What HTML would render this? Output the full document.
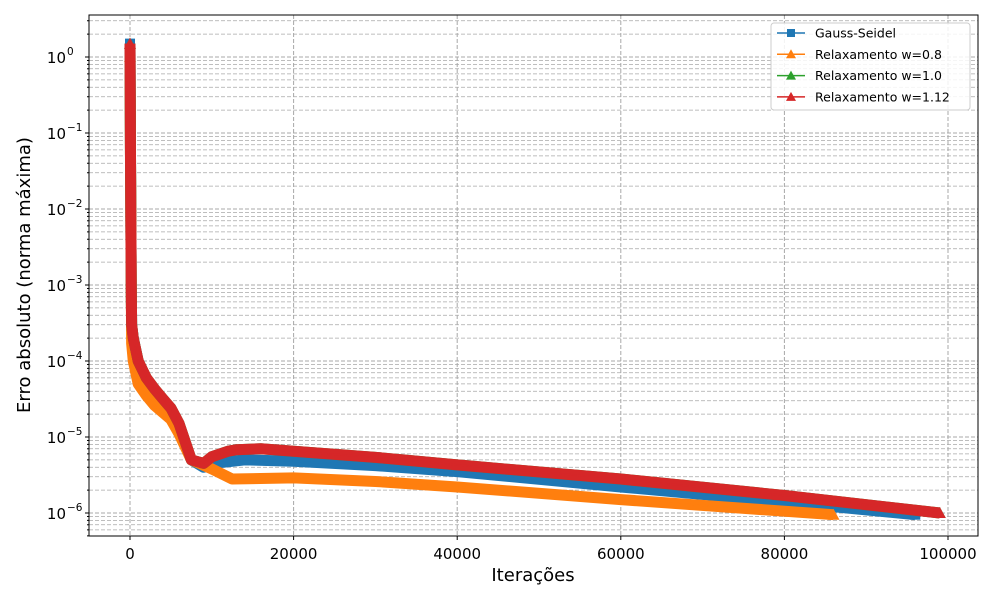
<!DOCTYPE html>
<html><head><meta charset="utf-8"><style>
body{margin:0;background:#fff;font-family:"Liberation Sans","DejaVu Sans",sans-serif}
svg text{font-family:"DejaVu Sans","Liberation Sans",sans-serif}
</style></head><body>
<svg id="chart" width="1000" height="600" xmlns="http://www.w3.org/2000/svg">
<rect width="1000" height="600" fill="#fff"/>
<g id="grid"></g>
<g id="series"></g>
<rect x="89" y="15" width="889" height="521" fill="none" stroke="#000" stroke-width="1"/>
<g id="ticks"></g>
<text x="533" y="581" font-size="18" text-anchor="middle">Iterações</text>
<text transform="translate(30,275) rotate(-90)" font-size="18" text-anchor="middle">Erro absoluto (norma máxima)</text>
<g id="legend"></g>
</svg>
<script>
const xTicks=[0,20000,40000,60000,80000,100000];
const xTickLabels=["0","20000","40000","60000","80000","100000"];
const yExps=[0,-1,-2,-3,-4,-5,-6];
const seriesNames=["Gauss-Seidel","Relaxamento w=0.8","Relaxamento w=1.0","Relaxamento w=1.12"];
const colors=["#1f77b4","#ff7f0e","#2ca02c","#d62728"];
const gsX=[0,30,60,100,150,200,400,1000,2000,3000,4000,5000,6000,7500,9000,10000,11000,14000,20000,30000,40000,60000,80000,96000];
const gsY=[1.5,0.3,0.05,0.01,1e-3,3e-4,2e-4,1e-4,5e-5,3.6e-5,2.7e-5,2e-5,1.3e-5,5e-6,4e-6,4.2e-6,4.6e-6,5e-6,4.8e-6,4.2e-6,3.5e-6,2.2e-6,1.4e-6,9.5e-7];
const w08X=[0,30,60,100,150,200,400,1000,2000,3000,4000,5000,6000,7500,10000,12500,20000,30000,40000,60000,86000];
const w08Y=[1.0,0.2,0.04,0.008,1e-3,1.7e-4,1e-4,5e-5,3.5e-5,2.6e-5,2.1e-5,1.7e-5,1.1e-5,5e-6,3.8e-6,2.8e-6,2.9e-6,2.6e-6,2.2e-6,1.5e-6,9.5e-7];
const w10X=[0,30,60,100,150,200,400,1000,2000,3000,4000,5000,6000,7500,9000,10000,12000,13000,16000,20000,30000,40000,60000,80000,99000];
const w10Y=[1.5,0.3,0.05,0.01,1e-3,3e-4,2e-4,1e-4,6e-5,4.3e-5,3.2e-5,2.4e-5,1.5e-5,5e-6,4.5e-6,5.5e-6,6.5e-6,6.8e-6,7e-6,6.5e-6,5.4e-6,4.3e-6,2.8e-6,1.7e-6,1e-6];
const w112X=[0,30,60,100,150,200,400,1000,2000,3000,4000,5000,6000,7500,9000,10000,12000,13000,16000,20000,30000,40000,60000,80000,99000];
const w112Y=[1.5,0.3,0.05,0.01,1e-3,3e-4,2e-4,1e-4,6e-5,4.3e-5,3.2e-5,2.4e-5,1.5e-5,5e-6,4.5e-6,5.5e-6,6.5e-6,6.8e-6,7e-6,6.5e-6,5.4e-6,4.3e-6,2.8e-6,1.7e-6,1e-6];
const NS="http://www.w3.org/2000/svg";
function xs(v){return 130+v*818/100000;}
function ys(v){return 57-Math.log10(v)*76;}
function mk(t,a,p){const e=document.createElementNS(NS,t);for(const k in a)e.setAttribute(k,a[k]);p.appendChild(e);return e;}
const grid=document.getElementById('grid'),ticks=document.getElementById('ticks');
xTicks.forEach((v,i)=>{const x=xs(v);
 const g=mk('line',{x1:x,x2:x,y1:15,y2:536,stroke:'#a8a8a8','stroke-dasharray':'4,2'},grid);
 
 mk('line',{x1:x,x2:x,y1:536,y2:540,stroke:'#000'},ticks);
 const t=mk('text',{x:x,y:559,'font-size':15,'text-anchor':'middle'},ticks);t.textContent=xTickLabels[i];
 });
for(let e=1;e>=-7;e--){for(let m=1;m<10;m++){const v=m*Math.pow(10,e);const y=ys(v);if(y<15||y>536)continue;
 const g=mk('line',{x1:89,x2:978,y1:y,y2:y,stroke:'#a8a8a8','stroke-dasharray':'4,2','stroke-width':m==1?1:0.8},grid);
 
 mk('line',{x1:m==1?85:87,x2:89,y1:y,y2:y,stroke:'#000'},ticks);}}
yExps.forEach(e=>{const y=ys(Math.pow(10,e));
 const t=mk('text',{x:66,y:y+6,'font-size':15,'text-anchor':'end'},ticks);t.textContent='10';
 
 const s=mk('text',{x:67,y:y-2,'font-size':10.5},ticks);s.textContent=String(e).replace('-','−');});
const sg=document.getElementById('series');
const data=[[gsX,gsY],[w08X,w08Y],[w10X,w10Y],[w112X,w112Y]];
const names=['series-gauss-seidel','series-w08','series-w10','series-w112'];
data.forEach((d,i)=>{const pts=d[0].map((x,j)=>xs(x)+','+ys(d[1][j])).join(' ');
 const p=mk('polyline',{points:pts,fill:'none',stroke:colors[i],'stroke-width':11,'stroke-linejoin':'round'},sg);
 
 mk('polyline',{points:pts,fill:'none',stroke:colors[i],'stroke-width':1.5},sg);
 const lx=xs(d[0][d[0].length-1]),ly=ys(d[1][d[1].length-1]);
 if(i==0)mk('rect',{x:lx-5,y:ly-5,width:10,height:10,fill:colors[i]},sg);
 else mk('polygon',{points:`${lx},${ly-6} ${lx-6},${ly+5} ${lx+6},${ly+5}`,fill:colors[i]},sg);
 const fy=ys(d[1][0]);
 if(i==0)mk('rect',{x:xs(0)-5,y:fy-5,width:10,height:10,fill:colors[i]},sg);
 else mk('polygon',{points:`${xs(0)},${fy-6} ${xs(0)-6},${fy+5} ${xs(0)+6},${fy+5}`,fill:colors[i]},sg);});
const lg=document.getElementById('legend');
mk('rect',{x:771,y:23,width:199,height:87,rx:3,fill:'#fff','fill-opacity':0.85,stroke:'#ccc'},lg);
seriesNames.forEach((n,i)=>{const y=33+i*21.3;
 mk('line',{x1:777,x2:805,y1:y,y2:y,stroke:colors[i],'stroke-width':1.5},lg);
 if(i==0)mk('rect',{x:787,y:y-4,width:8,height:8,fill:colors[i]},lg);
 else mk('polygon',{points:`791,${y-5} 786,${y+4} 796,${y+4}`,fill:colors[i]},lg);
 const t=mk('text',{x:815,y:y+4.5,'font-size':12.5},lg);t.textContent=n;
 });
</script>
</body></html>
